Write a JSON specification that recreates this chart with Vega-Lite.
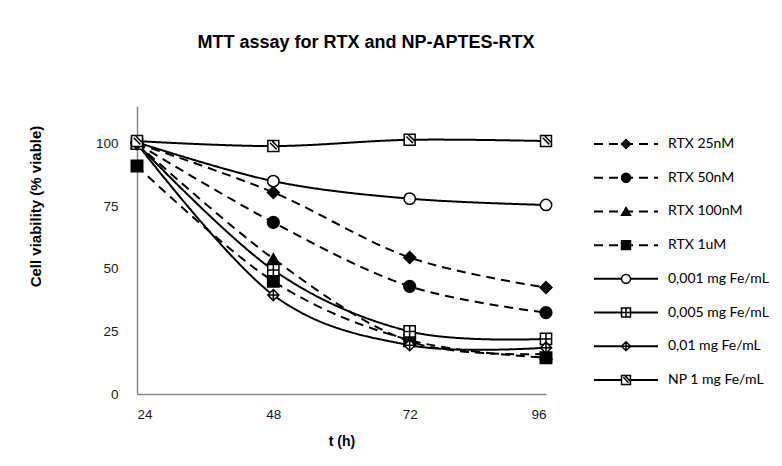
{
  "$schema": "https://vega.github.io/schema/vega-lite/v6.json",
  "autosize": {"type": "pad"},
  "padding": {"left": 27, "top": 34, "right": 0, "bottom": 0},
  "background": "white",
  "bounds": "flush",
  "spacing": 48,
  "config": {
    "view": {"stroke": null},
    "font": "Liberation Sans"
  },
  "title": {
    "text": "MTT assay for RTX and NP-APTES-RTX",
    "font": "Liberation Sans",
    "fontSize": 18,
    "fontWeight": "bold",
    "color": "#000000",
    "anchor": "start",
    "align": "center",
    "dx": 338,
    "baseline": "alphabetic",
    "offset": 40
  },
  "datasets": {
    "mtt": [
      {"series": "RTX 25nM", "t": 24, "v": 100},
      {"series": "RTX 25nM", "t": 48, "v": 80.5},
      {"series": "RTX 25nM", "t": 72, "v": 54.5},
      {"series": "RTX 25nM", "t": 96, "v": 42.5},
      {"series": "RTX 50nM", "t": 24, "v": 100},
      {"series": "RTX 50nM", "t": 48, "v": 68.5},
      {"series": "RTX 50nM", "t": 72, "v": 43},
      {"series": "RTX 50nM", "t": 96, "v": 32.5},
      {"series": "RTX 100nM", "t": 24, "v": 100},
      {"series": "RTX 100nM", "t": 48, "v": 54},
      {"series": "RTX 100nM", "t": 72, "v": 21},
      {"series": "RTX 100nM", "t": 96, "v": 16},
      {"series": "RTX 1uM", "t": 24, "v": 91},
      {"series": "RTX 1uM", "t": 48, "v": 45},
      {"series": "RTX 1uM", "t": 72, "v": 21.5},
      {"series": "RTX 1uM", "t": 96, "v": 14.5},
      {"series": "0,001 mg Fe/mL", "t": 24, "v": 100.5},
      {"series": "0,001 mg Fe/mL", "t": 48, "v": 85},
      {"series": "0,001 mg Fe/mL", "t": 72, "v": 78},
      {"series": "0,001 mg Fe/mL", "t": 96, "v": 75.5},
      {"series": "0,005 mg Fe/mL", "t": 24, "v": 100},
      {"series": "0,005 mg Fe/mL", "t": 48, "v": 49.5},
      {"series": "0,005 mg Fe/mL", "t": 72, "v": 25},
      {"series": "0,005 mg Fe/mL", "t": 96, "v": 22},
      {"series": "0,01 mg Fe/mL", "t": 24, "v": 100},
      {"series": "0,01 mg Fe/mL", "t": 48, "v": 39.5},
      {"series": "0,01 mg Fe/mL", "t": 72, "v": 19.5},
      {"series": "0,01 mg Fe/mL", "t": 96, "v": 18.5},
      {"series": "NP 1 mg Fe/mL", "t": 24, "v": 101},
      {"series": "NP 1 mg Fe/mL", "t": 48, "v": 99},
      {"series": "NP 1 mg Fe/mL", "t": 72, "v": 101.5},
      {"series": "NP 1 mg Fe/mL", "t": 96, "v": 101}
    ]
  },
  "hconcat": [
    {
      "width": 409,
      "height": 288,
      "data": {"name": "mtt"},
      "encoding": {
        "x": {
          "field": "t", "type": "quantitative",
          "scale": {"domain": [24, 96], "nice": false, "zero": false},
          "axis": {
            "title": "t (h)", "values": [24, 48, 72, 96],
            "grid": false, "ticks": false, "tickSize": 0,
            "domainColor": "#868686", "domainWidth": 1.5,
            "labelFont": "Liberation Sans", "labelFontSize": 13.5, "labelColor": "#1a1a1a",
            "labelPadding": 13,
            "titleFont": "Liberation Sans", "titleFontSize": 14, "titleFontWeight": "bold", "titleColor": "#000000",
            "titlePadding": 14
          }
        },
        "y": {
          "field": "v", "type": "quantitative",
          "scale": {"domain": [0, 115], "nice": false},
          "axis": {
            "title": "Cell viability (% viable)", "values": [0, 25, 50, 75, 100],
            "grid": false, "ticks": false, "tickSize": 0,
            "domainColor": "#868686", "domainWidth": 1.5,
            "labelFont": "Liberation Sans", "labelFontSize": 13.5, "labelColor": "#1a1a1a",
            "labelPadding": 19,
            "titleFont": "Liberation Sans", "titleFontSize": 15, "titleFontWeight": "bold", "titleColor": "#000000",
            "titleX": -102, "titleY": 100, "titleBaseline": "middle", "titleAngle": -90
          }
        }
      },
      "layer": [
        {
          "mark": {"type": "line", "interpolate": "cardinal", "tension": 0, "strokeWidth": 2, "color": "#000000"},
          "encoding": {
            "detail": {"field": "series"},
            "strokeDash": {
              "field": "series", "type": "nominal", "legend": null,
              "scale": {
                "domain": ["RTX 25nM", "RTX 50nM", "RTX 100nM", "RTX 1uM", "0,001 mg Fe/mL", "0,005 mg Fe/mL", "0,01 mg Fe/mL", "NP 1 mg Fe/mL"],
                "range": [[9, 6], [9, 6], [9, 6], [9, 6], [1, 0], [1, 0], [1, 0], [1, 0]]
              }
            }
          }
        },
        {
          "mark": {"type": "point", "filled": false, "opacity": 1, "stroke": "#000000"},
          "encoding": {
            "shape": {
              "field": "series", "type": "nominal", "legend": null,
              "scale": {
                "domain": ["RTX 25nM", "RTX 50nM", "RTX 100nM", "RTX 1uM", "0,001 mg Fe/mL", "0,005 mg Fe/mL", "0,01 mg Fe/mL", "NP 1 mg Fe/mL"],
                "range": ["diamond", "circle", "triangle-up", "square", "circle", "M-1,-1H1V1H-1Z M0,-1V1 M-1,0H1", "M0,-1L1,0L0,1L-1,0Z M0,-1V1 M-1,0H1", "M-1,-1H1V1H-1Z M-0.6,-0.6L0.6,0.6 M-0.2,-0.9L0.9,0.2"]
              }
            },
            "fill": {
              "field": "series", "type": "nominal", "legend": null,
              "scale": {
                "domain": ["RTX 25nM", "RTX 50nM", "RTX 100nM", "RTX 1uM", "0,001 mg Fe/mL", "0,005 mg Fe/mL", "0,01 mg Fe/mL", "NP 1 mg Fe/mL"],
                "range": ["#000000", "#000000", "#000000", "#000000", "#ffffff", "#ffffff", "#ffffff", "#ffffff"]
              }
            },
            "strokeWidth": {
              "field": "series", "type": "nominal", "legend": null,
              "scale": {
                "domain": ["RTX 25nM", "RTX 50nM", "RTX 100nM", "RTX 1uM", "0,001 mg Fe/mL", "0,005 mg Fe/mL", "0,01 mg Fe/mL", "NP 1 mg Fe/mL"],
                "range": [1.5, 1.5, 1.5, 1.5, 1.5, 3, 1.5, 1.8]
              }
            },
            "size": {
              "field": "series", "type": "nominal", "legend": null,
              "scale": {
                "domain": ["RTX 25nM", "RTX 50nM", "RTX 100nM", "RTX 1uM", "0,001 mg Fe/mL", "0,005 mg Fe/mL", "0,01 mg Fe/mL", "NP 1 mg Fe/mL"],
                "range": [140, 120, 110, 110, 110, 100, 70, 110]
              }
            }
          }
        }
      ]
    },
    {
      "width": 188,
      "height": 288,
      "data": {"name": "mtt"},
      "transform": [{"filter": "datum.t == 24"}],
      "encoding": {
        "y": {
          "field": "series", "type": "ordinal",
          "sort": ["RTX 25nM", "RTX 50nM", "RTX 100nM", "RTX 1uM", "0,001 mg Fe/mL", "0,005 mg Fe/mL", "0,01 mg Fe/mL", "NP 1 mg Fe/mL"],
          "scale": {"type": "point", "range": [38, 274], "padding": 0},
          "axis": null
        }
      },
      "layer": [
        {
          "mark": {"type": "rule", "strokeWidth": 2, "color": "#000000"},
          "encoding": {
            "x": {"datum": 0, "type": "quantitative", "scale": {"domain": [0, 188]}, "axis": null},
            "x2": {"datum": 64},
            "strokeDash": {
              "field": "series", "type": "nominal", "legend": null,
              "scale": {
                "domain": ["RTX 25nM", "RTX 50nM", "RTX 100nM", "RTX 1uM", "0,001 mg Fe/mL", "0,005 mg Fe/mL", "0,01 mg Fe/mL", "NP 1 mg Fe/mL"],
                "range": [[9, 6], [9, 6], [9, 6], [9, 6], [1, 0], [1, 0], [1, 0], [1, 0]]
              }
            }
          }
        },
        {
          "mark": {"type": "point", "filled": false, "opacity": 1, "stroke": "#000000"},
          "encoding": {
            "x": {"datum": 32, "type": "quantitative", "scale": {"domain": [0, 188]}, "axis": null},
            "shape": {
              "field": "series", "type": "nominal", "legend": null,
              "scale": {
                "domain": ["RTX 25nM", "RTX 50nM", "RTX 100nM", "RTX 1uM", "0,001 mg Fe/mL", "0,005 mg Fe/mL", "0,01 mg Fe/mL", "NP 1 mg Fe/mL"],
                "range": ["diamond", "circle", "triangle-up", "square", "circle", "M-1,-1H1V1H-1Z M0,-1V1 M-1,0H1", "M0,-1L1,0L0,1L-1,0Z M0,-1V1 M-1,0H1", "M-1,-1H1V1H-1Z M-0.6,-0.6L0.6,0.6 M-0.2,-0.9L0.9,0.2"]
              }
            },
            "fill": {
              "field": "series", "type": "nominal", "legend": null,
              "scale": {
                "domain": ["RTX 25nM", "RTX 50nM", "RTX 100nM", "RTX 1uM", "0,001 mg Fe/mL", "0,005 mg Fe/mL", "0,01 mg Fe/mL", "NP 1 mg Fe/mL"],
                "range": ["#000000", "#000000", "#000000", "#000000", "#ffffff", "#ffffff", "#ffffff", "#ffffff"]
              }
            },
            "strokeWidth": {
              "field": "series", "type": "nominal", "legend": null,
              "scale": {
                "domain": ["RTX 25nM", "RTX 50nM", "RTX 100nM", "RTX 1uM", "0,001 mg Fe/mL", "0,005 mg Fe/mL", "0,01 mg Fe/mL", "NP 1 mg Fe/mL"],
                "range": [1.5, 1.5, 1.5, 1.5, 1.5, 2.5, 1.5, 1.8]
              }
            },
            "size": {"value": 80}
          }
        },
        {
          "mark": {"type": "text", "align": "left", "baseline": "middle", "font": "Lato", "fontSize": 14, "color": "#000000"},
          "encoding": {
            "x": {"datum": 74, "type": "quantitative", "scale": {"domain": [0, 188]}, "axis": null},
            "text": {"field": "series"}
          }
        }
      ]
    }
  ]
}
